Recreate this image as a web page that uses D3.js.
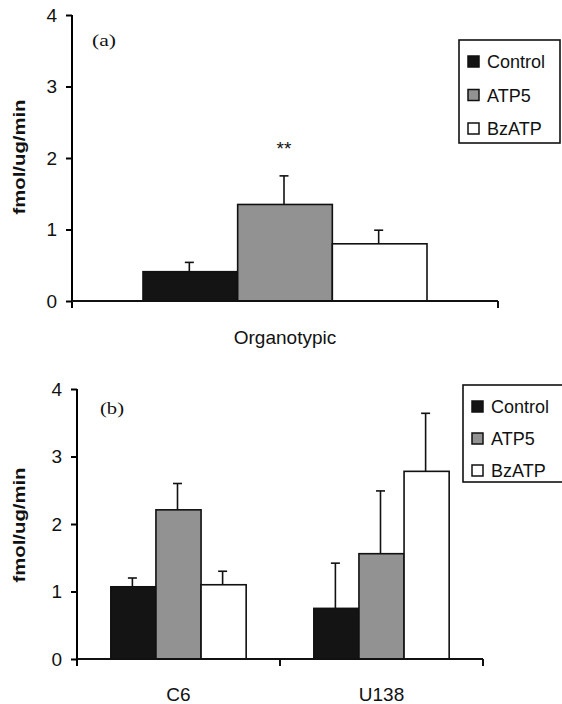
<!DOCTYPE html>
<html>
<head>
<meta charset="utf-8">
<script src="https://cdn.jsdelivr.net/npm/d3@7"></script>
<style>
  body { margin: 0; background: #fff; }
  svg { display: block; font-family: "Liberation Sans", Arial, sans-serif; }
</style>
</head>
<body>
<svg id="chart" width="562" height="704"></svg>
<script>
// series names and fills
const series = ["Control", "ATP5", "BzATP"];
const fills = ["#141414", "#929292", "#ffffff"];
const yTicks = [0, 1, 2, 3, 4];

// panel (a): organotypic slices
const catsA = ["Organotypic"];
const meanA = [[0.41, 1.35, 0.80]];
const errA = [[0.13, 0.40, 0.19]];

// panel (b): cell lines
const catsB = ["C6", "U138"];
const meanB = [[1.07, 2.21, 1.10], [0.75, 1.56, 2.78]];
const errB = [[0.13, 0.39, 0.20], [0.67, 0.93, 0.86]];

const svg = d3.select("#chart");

function drawPanel(cfg) {
    const g = svg.append("g");
    let y = d3.scaleLinear().domain([0, 4]).range([cfg.y0, cfg.y4]);
    let x = d3.scaleBand().domain(cfg.cats).range([cfg.xl, cfg.xr]).paddingInner(0).paddingOuter(0);
    let xs = d3.scaleBand().domain(series).range([0, x.bandwidth()]).paddingInner(0).paddingOuter(0.75);

    // y axis
    let ax = g.append("g")
        .attr("transform", `translate(${cfg.xl},0)`)
        .call(d3.axisLeft(y).tickValues(yTicks).tickSize(6).tickPadding(9).tickFormat(d3.format("d")));
    ax.select(".domain").attr("stroke-width", 2).attr("d", `M-0,${cfg.y4}V${cfg.y0 + 7}`);
    ax.selectAll(".tick line").attr("stroke-width", 2);
    ax.selectAll(".tick text").attr("font-size", 19).attr("font-family", "Liberation Sans, Arial").attr("fill", "#111");

    // bars
    cfg.cats.forEach((c, i) => {
        let grp = g.append("g").attr("transform", `translate(${x(c)},0)`);
        grp.selectAll("rect")
            .data(series)
            .join("rect")
            .attr("x", d => xs(d))
            .attr("width", xs.bandwidth())
            .attr("y", (d, j) => y(cfg.mean[i][j]))
            .attr("height", (d, j) => y(0) - y(cfg.mean[i][j]))
            .attr("fill", (d, j) => fills[j])
            .attr("stroke", "#111")
            .attr("stroke-width", 1.6);
        // error bars, upper half only
        series.forEach((s, j) => {
            let cx = xs(s) + xs.bandwidth() / 2 - 1;
            let top = y(cfg.mean[i][j] + cfg.err[i][j]);
            grp.append("line").attr("x1", cx).attr("x2", cx)
                .attr("y1", y(cfg.mean[i][j])).attr("y2", top)
                .attr("stroke", "#111").attr("stroke-width", 1.6);
            grp.append("line").attr("x1", cx - 4.5).attr("x2", cx + 4.5)
                .attr("y1", top).attr("y2", top)
                .attr("stroke", "#111").attr("stroke-width", 1.6);
        });
        g.append("text")
            .attr("x", x(c) + x.bandwidth() / 2)
            .attr("y", cfg.catY)
            .attr("text-anchor", "middle")
            .attr("font-size", 19)
            .attr("fill", "#111")
            .text(c);
    });

    // x axis with ticks at band edges
    g.append("line").attr("x1", cfg.xl).attr("x2", cfg.xr)
        .attr("y1", cfg.y0).attr("y2", cfg.y0)
        .attr("stroke", "#111").attr("stroke-width", 2);
    let edges = cfg.cats.map(c => x(c) + x.bandwidth()).filter(v => v > cfg.xl);
    g.selectAll(".xt").data(edges).join("line")
        .attr("x1", d => d).attr("x2", d => d)
        .attr("y1", cfg.y0).attr("y2", cfg.y0 + 7)
        .attr("stroke", "#111").attr("stroke-width", 2);

    // y label
    g.append("text")
        .attr("transform", `translate(${cfg.labX},${cfg.labY}) rotate(-90)`)
        .attr("text-anchor", "middle")
        .attr("font-size", 16)
        .attr("font-weight", "bold")
        .attr("textLength", 115)
        .attr("lengthAdjust", "spacingAndGlyphs")
        .attr("fill", "#111")
        .text("fmol/ug/min");

    // panel letter
    g.append("text")
        .attr("x", cfg.tagX).attr("y", cfg.tagY)
        .attr("font-family", "Liberation Serif, Times New Roman, serif")
        .attr("font-size", 17)
        .attr("textLength", 24)
        .attr("lengthAdjust", "spacingAndGlyphs")
        .attr("fill", "#111")
        .text(cfg.tag);

    // legend
    let lg = g.append("g").attr("transform", `translate(${cfg.legX},${cfg.legY})`);
    lg.append("rect").attr("x", 0).attr("y", 0)
        .attr("width", cfg.legW).attr("height", cfg.legH)
        .attr("fill", "#fff").attr("stroke", "#111").attr("stroke-width", 1.6);
    series.forEach((s, j) => {
        let by = cfg.legRow0 + j * cfg.legStep;
        lg.append("rect").attr("x", 9).attr("y", by - 12)
            .attr("width", 11).attr("height", 11)
            .attr("fill", fills[j]).attr("stroke", "#111").attr("stroke-width", 1.5);
        lg.append("text").attr("x", 28).attr("y", by)
            .attr("font-size", 18).attr("fill", "#111")
            .text(s);
    });
}

drawPanel({
    cats: catsA, mean: meanA, err: errA,
    xl: 72, xr: 498, y0: 301, y4: 15, catY: 344,
    labX: 25, labY: 157, tag: "(a)", tagX: 92, tagY: 46,
    legX: 459, legY: 40, legW: 101, legH: 103, legRow0: 28, legStep: 33.5
});

drawPanel({
    cats: catsB, mean: meanB, err: errB,
    xl: 77, xr: 483, y0: 659, y4: 389, catY: 701,
    labX: 25, labY: 525, tag: "(b)", tagX: 100, tagY: 414,
    legX: 463, legY: 385, legW: 104, legH: 97, legRow0: 28, legStep: 32
});

// significance mark over ATP5 organotypic
svg.append("text").attr("x", 284).attr("y", 155)
    .attr("text-anchor", "middle").attr("font-size", 19).attr("fill", "#111")
    .text("**");
</script>
</body>
</html>
